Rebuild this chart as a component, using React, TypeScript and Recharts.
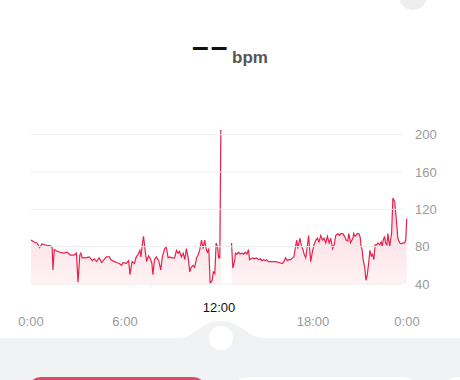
import React from "react";
import { ComposedChart, Area, XAxis, YAxis, ReferenceLine } from "recharts";

// minutes since midnight
const times: number[] = [
  0, 12, 23, 33, 42, 54, 64, 73, 81, 84, 89, 100, 111, 126, 138, 151, 164, 174, 180, 187,
  191, 196, 210, 223, 235, 242, 251, 261, 271, 280, 289, 300, 306, 319, 328, 338, 347, 353, 364, 374,
  379, 387, 396, 402, 412, 417, 421, 427, 431, 437, 443, 450, 457, 463, 467, 473, 480, 489, 497, 503,
  512, 518, 525, 531, 538, 550, 557, 563, 569, 576, 583, 589, 595, 602, 608, 614, 621, 627, 634, 640,
  646, 653, 659, 665, 672, 676, 681, 686, 694, 698, 704, 709, 714, 719, 723, 727, 740,
  768, 773, 780, 783, 788, 795, 801, 808, 814, 821, 827, 833, 837, 842, 850, 855, 863, 872, 878,
  884, 891, 897, 902, 910, 923, 936, 950, 963, 969, 975, 982, 988, 995, 1001, 1007, 1014, 1018, 1021, 1026,
  1030, 1036, 1040, 1046, 1052, 1059, 1063, 1068, 1071, 1078, 1084, 1091, 1097, 1103, 1110, 1116, 1122, 1129, 1135, 1142,
  1148, 1155, 1161, 1167, 1175, 1181, 1188, 1194, 1201, 1207, 1213, 1217, 1224, 1229, 1233, 1236, 1241, 1245, 1249, 1255,
  1260, 1262, 1264, 1268, 1272, 1278, 1283, 1288, 1293, 1298, 1303, 1308, 1313, 1318, 1324, 1329, 1335, 1341, 1345, 1349,
  1354, 1358, 1363, 1367, 1370, 1374, 1377, 1381, 1386, 1393, 1399, 1405, 1412, 1418, 1425, 1431, 1435, 1439,
];

// heart rate (bpm), null = no reading
const bpm: (number | null)[] = [
  87, 85, 84, 79, 83, 82, 81, 81, 79, 55, 77, 75, 74, 73, 74, 71, 71, 73, 42, 71,
  73, 68, 68, 69, 65, 67, 64, 68, 63, 66, 69, 69, 66, 64, 63, 62, 60, 63, 62, 65,
  50, 64, 62, 68, 73, 76, 69, 84, 91, 76, 64, 70, 67, 62, 50, 66, 69, 65, 55, 69,
  78, 80, 68, 69, 68, 68, 76, 73, 75, 69, 73, 66, 78, 68, 53, 58, 60, 58, 68, 71,
  76, 87, 78, 87, 76, 74, 78, 41, 44, 53, 51, 84, 80, 68, 68, 205, null,
  84, 57, 65, 73, 72, 74, 72, 73, 72, 74, 72, 77, 66, 67, 68, 67, 68, 66, 67,
  65, 66, 65, 66, 64, 64, 64, 63, 62, 64, 68, 65, 66, 66, 68, 69, 82, 87, 78, 84,
  89, 80, 78, 72, 68, 82, 92, 75, 64, 75, 82, 87, 89, 85, 92, 87, 89, 84, 91, 84,
  89, 78, 82, 92, 94, 92, 94, 94, 91, 87, 86, 94, 84, 87, 89, 94, 91, 92, 94, 94,
  91, 87, 80, 77, 66, 58, 44, 50, 62, 76, 70, 72, 66, 82, 82, 84, 82, 85, 80, 87,
  91, 84, 82, 94, 87, 80, 87, 94, 132, 128, 109, 89, 84, 83, 84, 84, 87, 110,
];

const xTicks: number[] = [0, 360, 720, 1080, 1440];
const xTickLabels: string[] = ["0:00", "6:00", "12:00", "18:00", "0:00"];
const yTicks: number[] = [40, 80, 120, 160, 200];
const highlightTick = 720;
const gridEnd = 1421;

const data = times.map((t, i) => ({ t, bpm: bpm[i] }));

const FONT = '"Liberation Sans", Arial, Helvetica, sans-serif';

function XTick(props: any) {
  const { x, y, payload, index } = props;
  const hi = payload.value === highlightTick;
  return (
    <text
      x={x}
      y={hi ? y + 20 : y + 34}
      textAnchor="middle"
      fontFamily={FONT}
      fontSize={13}
      fill={hi ? "#111" : "#9a9a9a"}
    >
      {xTickLabels[index] ?? ""}
    </text>
  );
}

export default function App() {
  return (
    <div
      style={{
        position: "absolute",
        left: 0,
        top: 0,
        width: 460,
        height: 380,
        overflow: "hidden",
        background: "#fff",
      }}
    >
      <svg width={460} height={380} style={{ position: "absolute", left: 0, top: 0 }}>
        <circle cx={413} cy={-4} r={14} fill="#eeeeee" />
        <text x={192} y={57} fontFamily={FONT} fontWeight={700} fontSize={30} letterSpacing={2} fill="#111">
          ––
        </text>
        <text x={232} y={63} fontFamily={FONT} fontWeight={700} fontSize={17} fill="#555">
          bpm
        </text>
        <path
          d="M0 338 L178 338 C195 338 200 321 221 321 C242 321 247 338 264 338 L460 338 L460 380 L0 380 Z"
          fill="#f1f2f4"
        />
        <circle cx={221} cy={338} r={12} fill="#fff" />
        <rect x={27} y={377} width={180} height={40} rx={14} fill="#d84c66" />
        <rect x={233} y={377} width={184} height={40} rx={14} fill="#fff" />
        <rect x={443} y={377} width={60} height={40} rx={14} fill="#fff" />
      </svg>
      <div style={{ position: "absolute", left: 0, top: 0 }}>
        <ComposedChart
          width={460}
          height={380}
          data={data}
          margin={{ top: 129, right: 0, bottom: 66, left: 31 }}
        >
          <defs>
            <linearGradient id="hrFill" x1="0" y1="0" x2="0" y2="1">
              <stop offset="0%" stopColor="#f0385f" stopOpacity={0.55} />
              <stop offset="60%" stopColor="#f0385f" stopOpacity={0.28} />
              <stop offset="100%" stopColor="#f0385f" stopOpacity={0.1} />
            </linearGradient>
          </defs>
          {yTicks.map((v) => (
            <ReferenceLine
              key={v}
              segment={[
                { x: 0, y: v },
                { x: gridEnd, y: v },
              ]}
              stroke="#ededed"
              strokeWidth={1}
            />
          ))}
          <XAxis
            dataKey="t"
            type="number"
            domain={[0, 1440]}
            ticks={xTicks}
            axisLine={false}
            tickLine={false}
            height={30}
            interval={0}
            tick={<XTick />}
          />
          <YAxis
            orientation="right"
            type="number"
            domain={[40, 206]}
            ticks={yTicks}
            axisLine={false}
            tickLine={false}
            width={53}
            interval={0}
            tick={{ fill: "#9a9a9a", fontSize: 13, fontFamily: FONT }}
          />
          <Area
            type="linear"
            dataKey="bpm"
            stroke="#e5234e"
            strokeWidth={1.2}
            fill="url(#hrFill)"
            connectNulls={false}
            dot={false}
            activeDot={false}
            isAnimationActive={false}
          />
        </ComposedChart>
      </div>
    </div>
  );
}
